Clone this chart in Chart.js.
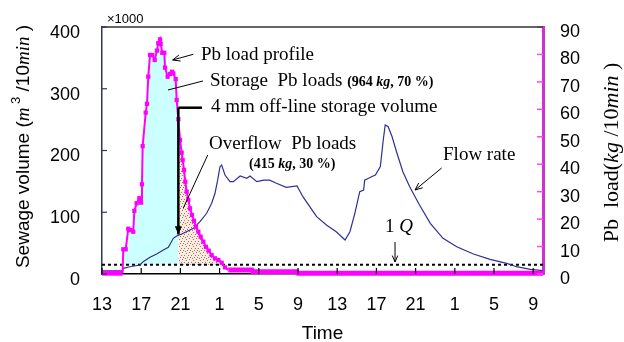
<!DOCTYPE html>
<html>
<head>
<meta charset="utf-8">
<script src="https://cdn.jsdelivr.net/npm/chart.js@4.4.0/dist/chart.umd.min.js"></script>
<style>
  html, body { margin: 0; padding: 0; background: #fff; }
</style>
</head>
<body>
<canvas id="myChart" width="624" height="342"></canvas>
<script>
// Data ------------------------------------------------>

// hours after 13:00 on day 1
const tickHours = [0, 4, 8, 12, 16, 20, 24, 28, 32, 36, 40, 44];
const tickLabels = ['13', '17', '21', '1', '5', '9', '13', '17', '21', '1', '5', '9'];

// Pb load (kg/10min), right axis
const pbHours = [0, 2.1, 2.17, 2.42, 2.68, 2.93, 3.19, 3.30, 3.54, 3.81, 3.98, 4.08, 4.15, 4.46, 4.59, 4.72,
  4.90, 5.13, 5.38, 5.61, 5.74, 5.92, 5.99, 6.15, 6.36, 6.43, 6.70, 6.94, 7.14, 7.28, 7.52, 7.62, 7.79, 7.96,
  8.13, 8.23, 8.37, 8.50, 8.64, 8.81, 8.98, 9.18, 9.39, 9.59, 9.83, 10.07, 10.34, 10.61, 10.89, 11.19, 11.53,
  11.87, 12.21, 12.55, 12.89, 15.3, 15.4, 19.9, 20.0, 45];
const pbLoad = [0.3, 0.3, 9.0, 9.0, 16.5, 16.0, 15.4, 23.0, 25.8, 27.6, 26.0, 32.7, 46.6, 58.8, 62.0, 71.9,
  79.8, 79.8, 78.0, 81.4, 84.1, 85.5, 83.8, 80.6, 80.6, 75.2, 71.9, 72.9, 73.7, 73.1, 71.0, 63.4, 56.4, 48.8,
  44.2, 41.5, 37.9, 33.6, 30.0, 27.0, 23.9, 21.5, 19.4, 17.2, 15.4, 13.6, 11.8, 9.9, 8.5, 6.9, 5.7,
  5.1, 4.1, 2.4, 1.5, 1.5, 0.8, 0.8, 0.3, 0.3];

// Flow rate (x1000 m3/10min), left axis
const flowHours = [0, 2.1, 2.17, 2.86, 3.88, 4.2, 4.9, 5.58, 6.26, 6.77, 7.28, 7.62, 8.13, 8.98, 9.32, 10.0,
  10.68, 11.19, 11.53, 11.8, 12.04, 12.21, 12.55, 13.06, 13.4, 14.1, 14.77, 15.1, 15.8, 16.5, 17.1, 17.8,
  18.8, 19.9, 20.5, 21.2, 21.9, 22.9, 23.9, 24.8, 25.3, 25.8, 26.3, 26.7, 26.8, 27.2, 27.5, 27.9, 28.4,
  28.7, 28.9, 29.2, 29.6, 30.1, 30.7, 31.4, 32.3, 33.5, 34.8, 36.2, 37.9, 39.6, 41.3, 42.3, 43.7, 45];
const flowVolume = [5, 5, 9.2, 11.8, 14.6, 20, 27, 32.4, 38.9, 43.2, 57.8, 61.5, 64.8, 71.3, 74, 84.7,
  98.3, 114.5, 130.7, 152, 173.8, 176.5, 160.3, 149.5, 149.5, 158.7, 155, 158.7, 149.5, 152, 152, 146.9,
  140.4, 142.5, 125.2, 109, 92.8, 79.4, 68.5, 55.1, 68.5, 98.3, 133.3, 136, 152, 155, 157.6, 160.3, 173.8,
  217, 241.3, 238.5, 222.3, 195.5, 165.7, 141.4, 114.5, 82.1, 57.8, 44.2, 32.4, 23.8, 17.3, 11.8, 7.6, 5.3];

const oneQ = 15;            // 1Q flow line
const storageStart = 2.17;  // Pb loads caught by storage
const storageEnd = 7.79;    // storage full
const overflowEnd = 11.87;  // overflow Pb loads

// Build points --------------------------------------->

const pbPoints = pbHours.map((h, i) => ({ x: h, y: pbLoad[i] }));
const flowPoints = flowHours.map((h, i) => ({ x: h, y: flowVolume[i] }));
const storagePoints = pbPoints.filter(p => p.x >= storageStart && p.x <= storageEnd);
const overflowPoints = pbPoints.filter(p => p.x >= storageEnd && p.x <= overflowEnd);

const serif = '"Liberation Serif", "Times New Roman", serif';
const sans = '"Liberation Sans", Arial, sans-serif';

// stipple texture for the overflow area
function stipple() {
  const c = document.createElement('canvas');
  c.width = 7; c.height = 7;
  const g = c.getContext('2d');
  g.fillStyle = '#f6ece4';
  g.fillRect(0, 0, 7, 7);
  g.fillStyle = '#b8714c';
  [[0, 0], [4, 1], [2, 3], [6, 3], [1, 5], [5, 5], [3, 6]].forEach(d => g.fillRect(d[0], d[1], 1, 1));
  return g.createPattern(c, 'repeat');
}

function runs(ctx, parts, x, y, align) {
  let total = 0;
  const widths = parts.map(p => {
    ctx.font = p[1];
    const w = ctx.measureText(p[0]).width;
    total += w;
    return w;
  });
  let cx = align === 'center' ? x - total / 2 : x;
  parts.forEach((p, i) => {
    ctx.font = p[1];
    ctx.fillText(p[0], cx, y + (p[2] || 0));
    cx += widths[i];
  });
}

function arrow(ctx, x1, y1, x2, y2, filled, size) {
  const a = Math.atan2(y2 - y1, x2 - x1);
  ctx.beginPath();
  ctx.moveTo(x1, y1);
  ctx.lineTo(x2, y2);
  ctx.stroke();
  ctx.beginPath();
  ctx.moveTo(x2 - size * Math.cos(a - 0.4), y2 - size * Math.sin(a - 0.4));
  ctx.lineTo(x2, y2);
  ctx.lineTo(x2 - size * Math.cos(a + 0.4), y2 - size * Math.sin(a + 0.4));
  if (filled) { ctx.closePath(); ctx.fill(); } else { ctx.stroke(); }
}

function line(ctx, x1, y1, x2, y2) {
  ctx.beginPath();
  ctx.moveTo(x1, y1);
  ctx.lineTo(x2, y2);
  ctx.stroke();
}

// Labels, arrows, inward ticks -------------------------->

const notesPlugin = {
  id: 'notes',
  afterDraw(chart) {
    const { ctx, chartArea: a, scales } = chart;
    const X = h => scales.x.getPixelForValue(h);
    const Y = v => scales.y.getPixelForValue(v);
    ctx.save();

    // inward tick marks + top frame
    ctx.lineWidth = 1.2;
    ctx.strokeStyle = '#000';
    scales.x.ticks.forEach(t => line(ctx, X(t.value), a.bottom, X(t.value), a.bottom - 6));
    ctx.strokeStyle = '#333366';
    scales.y.ticks.forEach(t => line(ctx, a.left, Y(t.value), a.left + 5, Y(t.value)));
    ctx.strokeStyle = '#ff44ff';
    ctx.lineWidth = 1.5;
    scales.y1.ticks.forEach(t => {
      const py = scales.y1.getPixelForValue(t.value);
      line(ctx, a.right, py, a.right - 6, py);
    });
    ctx.strokeStyle = '#333333';
    ctx.lineWidth = 1.5;
    line(ctx, a.left, a.top, a.right, a.top);

    ctx.fillStyle = '#000';
    ctx.strokeStyle = '#000';
    ctx.textBaseline = 'alphabetic';

    runs(ctx, [['\u00d71000', '13px ' + sans]], X(0.51), Y(406.6));

    runs(ctx, [['Pb load profile', '19px ' + serif]], X(10.1), Y(346.6));
    ctx.lineWidth = 1;
    arrow(ctx, X(9.32), Y(355.8), X(7.21), Y(346.6), false, 8);

    runs(ctx, [['Storage  Pb loads ', '19px ' + serif], ['(964 ', 'bold 14px ' + serif],
      ['kg', 'italic bold 14px ' + serif], [', 70 %)', 'bold 14px ' + serif]], X(11.02), Y(304.5));
    line(ctx, X(10.31), Y(312.6), X(6.73), Y(298));

    runs(ctx, [['4 mm off-line storage volume', '19px ' + serif]], X(11.12), Y(262.8));
    ctx.lineWidth = 2.5;
    ctx.beginPath();
    ctx.moveTo(X(10.2), Y(269.3));
    ctx.lineTo(X(storageEnd), Y(269.3));
    ctx.stroke();
    arrow(ctx, X(storageEnd), Y(269.3), X(storageEnd), Y(64), true, 9);

    ctx.lineWidth = 1;
    runs(ctx, [['Overflow  Pb loads', '19px ' + serif]], X(10.92), Y(201.9));
    runs(ctx, [['(415 ', 'bold 14px ' + serif], ['kg', 'italic bold 14px ' + serif],
      [', 30 %)', 'bold 14px ' + serif]], X(15.0), Y(171.2));
    line(ctx, X(10.79), Y(192.7), X(8.30), Y(106.9));

    runs(ctx, [['Flow rate', '19px ' + serif]], X(34.8), Y(184.6));
    arrow(ctx, X(34.66), Y(171.7), X(31.94), Y(136), false, 8);

    runs(ctx, [['1 ', '19px ' + serif], ['Q', 'italic 19px ' + serif]], X(28.88), Y(68));
    arrow(ctx, X(29.9), Y(51.8), X(29.9), Y(19.4), false, 7);

    // axis titles
    const midY = (a.top + a.bottom) / 2;
    runs(ctx, [['Time', '19px ' + sans]], (a.left + a.right) / 2, a.bottom + 65, 'center');

    ctx.save();
    ctx.translate(29, midY - 4);
    ctx.rotate(-Math.PI / 2);
    runs(ctx, [['Sewage volume (', '19px ' + sans], ['m', 'italic 19px ' + serif], [' 3', '13px ' + sans, -9],
      [' /10', '19px ' + sans], ['min', 'italic 19px ' + serif], [' )', '19px ' + sans]], 0, 0, 'center');
    ctx.restore();

    ctx.save();
    ctx.translate(618, midY + 2);
    ctx.rotate(-Math.PI / 2);
    runs(ctx, [['Pb  load', '22px ' + serif], ['(', '22px ' + serif], ['kg', 'italic 22px ' + serif],
      [' /10', '22px ' + serif], ['min', 'italic 22px ' + serif], [' )', '22px ' + serif]], 0, 0, 'center');
    ctx.restore();

    ctx.restore();
  }
};

// Chart ---------------------------------------------->

const ctx = document.getElementById('myChart');

new Chart(ctx, {
  type: 'line',
  data: {
    datasets: [{
      label: 'Pb load',
      data: pbPoints,
      yAxisID: 'y1',
      borderColor: '#ff00ff',
      backgroundColor: '#ff00ff',
      borderWidth: 2,
      pointStyle: 'rect',
      pointRadius: c => (c.raw && c.raw.y > 2 ? 3 : 0),
      pointBorderWidth: 0,
      segment: {
        borderWidth: c => (c.p0.parsed.y < 2 && c.p1.parsed.y < 2 ? 5 : 2)
      },
      fill: false,
      clip: 8,
      order: 0
    }, {
      label: 'Flow rate',
      data: flowPoints,
      yAxisID: 'y',
      borderColor: '#2e3192',
      borderWidth: 1.2,
      pointRadius: 0,
      fill: false,
      order: 1
    }, {
      label: '1Q',
      data: [{ x: 0, y: oneQ }, { x: 45, y: oneQ }],
      yAxisID: 'y',
      borderColor: '#000',
      borderWidth: 2,
      borderDash: [3, 3],
      pointRadius: 0,
      fill: false,
      order: 2
    }, {
      label: 'Storage',
      data: storagePoints,
      yAxisID: 'y1',
      borderColor: 'rgba(0,0,0,0)',
      borderWidth: 0,
      pointRadius: 0,
      backgroundColor: '#ccffff',
      fill: 2,
      order: 3
    }, {
      label: 'Overflow',
      data: overflowPoints,
      yAxisID: 'y1',
      borderColor: 'rgba(0,0,0,0)',
      borderWidth: 0,
      pointRadius: 0,
      backgroundColor: stipple(),
      fill: 2,
      order: 4
    }]
  },
  options: {
    responsive: false,
    animation: false,
    events: [],
    layout: { padding: { top: 27, left: 0, right: 0, bottom: 0 } },
    plugins: {
      legend: { display: false },
      tooltip: { enabled: false }
    },
    scales: {
      x: {
        type: 'linear',
        min: 0,
        max: 45,
        afterBuildTicks: s => { s.ticks = tickHours.map(v => ({ value: v })); },
        afterFit: s => { s.height = 68; s.paddingLeft = 0; s.paddingRight = 0; },
        grid: { display: false, drawTicks: false },
        border: { color: '#000', width: 1.5 },
        ticks: {
          autoSkip: false,
          maxRotation: 0,
          padding: 20,
          color: '#000',
          font: { family: sans, size: 18 },
          callback: (v, i) => tickLabels[i]
        }
      },
      y: {
        position: 'left',
        min: 0,
        max: 400,
        afterFit: s => { s.width = 102; s.paddingTop = 0; s.paddingBottom = 0; },
        grid: { display: false, drawTicks: false },
        border: { color: '#333366', width: 1.5 },
        ticks: { stepSize: 100, padding: 22, labelOffset: 6, color: '#000', font: { family: sans, size: 18 } }
      },
      y1: {
        position: 'right',
        min: 0,
        max: 90,
        afterFit: s => { s.width = 81; s.paddingTop = 0; s.paddingBottom = 0; },
        grid: { display: false, drawTicks: false },
        border: { color: '#cc33cc', width: 3 },
        ticks: { stepSize: 10, padding: 17, labelOffset: 5, color: '#000', font: { family: sans, size: 18 } }
      }
    }
  },
  plugins: [notesPlugin]
});
</script>
</body>
</html>
